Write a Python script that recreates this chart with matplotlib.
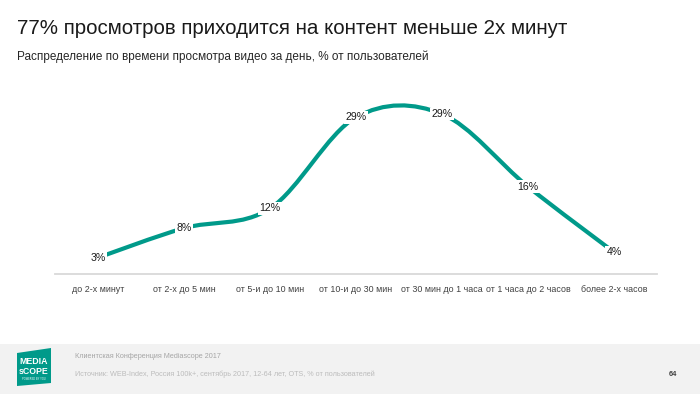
import matplotlib
matplotlib.use("Agg")
import matplotlib.pyplot as plt
from matplotlib.path import Path
from matplotlib.patches import PathPatch, Polygon, Rectangle

plt.rcParams['font.family'] = ['Liberation Sans', 'DejaVu Sans']

categories = ["до 2-х минут", "от 2-х до 5 мин", "от 5-и до 10 мин", "от 10-и до 30 мин",
              "от 30 мин до 1 часа", "от 1 часа до 2 часов", "более 2-х часов"]
values = [3.0, 8.4, 12.0, 28.7, 29.3, 16.0, 4.0]
labels = ["3%", "8%", "12%", "29%", "29%", "16%", "4%"]

title = "77% просмотров приходится на контент меньше 2х минут"
subtitle = "Распределение по времени просмотра видео за день, % от пользователей"
footer1 = "Клиентская Конференция Mediascope 2017"
footer2 = "Источник: WEB-Index, Россия 100k+, сентябрь 2017, 12-64 лет, OTS, % от пользователей"
page = "64"

TEAL = "#009a8a"
W, H = 700, 394
fig = plt.figure(figsize=(7, 3.94), dpi=100)

def fx(px):
    return px / W

def fy(py):
    return 1 - py / H

# footer band
fig.patches.append(Rectangle((0, 0), 1, fy(344), transform=fig.transFigure,
                             facecolor="#f2f2f2", edgecolor="none", zorder=0))
logo = Polygon([(fx(17), fy(353)), (fx(51), fy(348)), (fx(51), fy(383)), (fx(17), fy(386))],
               closed=True, transform=fig.transFigure, facecolor=TEAL, edgecolor="none", zorder=1)
fig.patches.append(logo)
fig.text(fx(34), fy(361), "MEDIA", color="white", fontsize=6.3, ha="center", va="center",
         fontweight="bold", family=["Liberation Sans Narrow", "Liberation Sans"], zorder=2)
fig.text(fx(34), fy(372), "sCOPE", color="white", fontsize=6.3, ha="center", va="center",
         fontweight="bold", family=["Liberation Sans Narrow", "Liberation Sans"], zorder=2)
fig.text(fx(34), fy(379), "POWERED BY YOU", color="white", fontsize=1.8, ha="center", va="center", zorder=2)

fig.text(fx(75), fy(356), footer1, color="#a6a6a6", fontsize=5.2, ha="left", va="center")
fig.text(fx(75), fy(374), footer2, color="#bcbcbc", fontsize=5.25, ha="left", va="center")
fig.text(fx(677), fy(374), page, color="#404040", fontsize=5.4, ha="right", va="center", fontweight="bold")

fig.text(fx(17), fy(28), title, fontsize=14.8, color="#1a1a1a", ha="left", va="center")
fig.text(fx(17), fy(57), subtitle, fontsize=8.5, color="#262626", ha="left", va="center")

# axes
ax_left, ax_right = 55, 657
ax_top, ax_bottom = 82.9, 274
ax = fig.add_axes([fx(ax_left), fy(ax_bottom), fx(ax_right - ax_left), (ax_bottom - ax_top) / H])
ax.set_xlim(-0.5, len(categories) - 0.5)
ax.set_ylim(0, 35)
ax.patch.set_alpha(0)
for s in ["top", "right", "left"]:
    ax.spines[s].set_visible(False)
ax.spines["bottom"].set_color("#d9d9d9")
ax.spines["bottom"].set_linewidth(1.3)
ax.set_yticks([])
ax.set_xticks(range(len(categories)))
ax.set_xticklabels(categories, fontsize=6.4, color="#404040")
ax.tick_params(axis="x", length=0, pad=8)

# smoothed line (Catmull-Rom -> cubic Bezier)
xs = list(range(len(values)))
pts = list(zip(xs, values))
n = len(pts)
verts = [pts[0]]
codes = [Path.MOVETO]
for i in range(n - 1):
    p0 = pts[i - 1] if i > 0 else pts[i]
    p1 = pts[i]
    p2 = pts[i + 1]
    p3 = pts[i + 2] if i + 2 < n else pts[i + 1]
    c1 = (p1[0] + (p2[0] - p0[0]) / 6, p1[1] + (p2[1] - p0[1]) / 6)
    c2 = (p2[0] - (p3[0] - p1[0]) / 6, p2[1] - (p3[1] - p1[1]) / 6)
    verts += [c1, c2, p2]
    codes += [Path.CURVE4] * 3
ax.add_patch(PathPatch(Path(verts, codes), facecolor="none", edgecolor=TEAL,
                       linewidth=3.0, capstyle="butt", zorder=2, clip_on=False))

for x, v, lab in zip(xs, values, labels):
    ax.text(x, v, lab, ha="center", va="center", fontsize=7.6, color="#1a1a1a", zorder=5,
            bbox=dict(boxstyle="square,pad=0.12", facecolor="white", edgecolor="none"))

fig.savefig("out.png", dpi=100)
